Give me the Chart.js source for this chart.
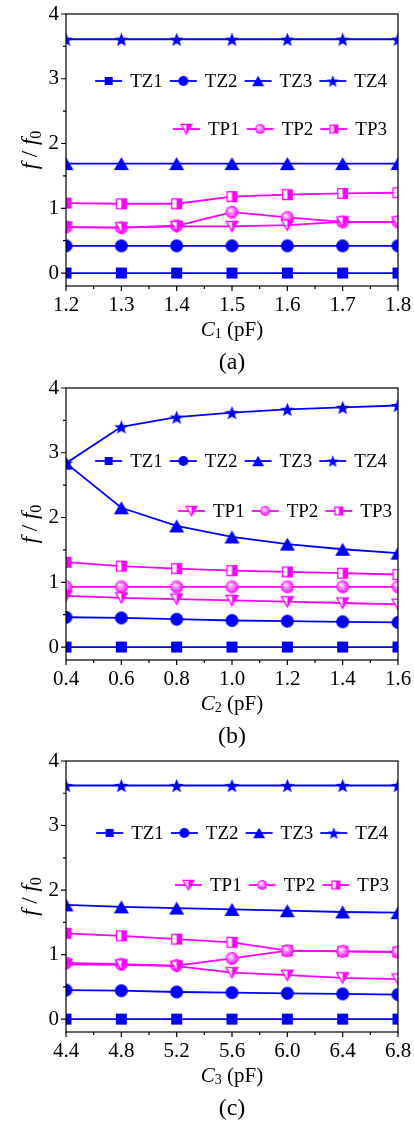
<!DOCTYPE html>
<html>
<head>
<meta charset="utf-8">
<script src="https://cdn.jsdelivr.net/npm/chart.js@4.4.1/dist/chart.umd.min.js"></script>
<style>
  body { margin: 0; background: #fff; }
  canvas { display: block; }
</style>
</head>
<body>
<canvas id="chartA" width="414" height="378"></canvas>
<canvas id="chartB" width="414" height="374"></canvas>
<canvas id="chartC" width="414" height="373"></canvas>
<script>
// (a) sweep of C1
const c1Values = [1.2, 1.3, 1.4, 1.5, 1.6, 1.7, 1.8];
const tz1A = [0, 0, 0, 0, 0, 0, 0];
const tz2A = [0.42, 0.42, 0.42, 0.42, 0.42, 0.42, 0.42];
const tz3A = [1.69, 1.69, 1.69, 1.69, 1.69, 1.69, 1.69];
const tz4A = [3.61, 3.61, 3.61, 3.61, 3.61, 3.61, 3.61];
const tp1A = [0.71, 0.70, 0.72, 0.72, 0.74, 0.79, 0.79];
const tp2A = [0.71, 0.70, 0.73, 0.94, 0.86, 0.79, 0.79];
const tp3A = [1.08, 1.07, 1.07, 1.18, 1.21, 1.23, 1.24];

// (b) sweep of C2
const c2Values = [0.4, 0.6, 0.8, 1.0, 1.2, 1.4, 1.6];
const tz1B = [0, 0, 0, 0, 0, 0, 0];
const tz2B = [0.46, 0.45, 0.43, 0.41, 0.40, 0.39, 0.38];
const tz3B = [2.84, 2.15, 1.87, 1.70, 1.59, 1.51, 1.45];
const tz4B = [2.84, 3.40, 3.55, 3.62, 3.67, 3.70, 3.73];
const tp1B = [0.79, 0.76, 0.74, 0.72, 0.70, 0.68, 0.66];
const tp2B = [0.93, 0.93, 0.93, 0.93, 0.93, 0.93, 0.93];
const tp3B = [1.31, 1.25, 1.21, 1.18, 1.16, 1.14, 1.12];

// (c) sweep of C3
const c3Values = [4.4, 4.8, 5.2, 5.6, 6.0, 6.4, 6.8];
const tz1C = [0, 0, 0, 0, 0, 0, 0];
const tz2C = [0.45, 0.44, 0.42, 0.41, 0.40, 0.39, 0.38];
const tz3C = [1.77, 1.74, 1.72, 1.70, 1.68, 1.66, 1.65];
const tz4C = [3.62, 3.62, 3.62, 3.62, 3.62, 3.62, 3.62];
const tp1C = [0.85, 0.84, 0.82, 0.72, 0.68, 0.64, 0.62];
const tp2C = [0.87, 0.85, 0.83, 0.94, 1.06, 1.05, 1.04];
const tp3C = [1.33, 1.29, 1.24, 1.19, 1.06, 1.05, 1.04];

// axis ticks
const ticksA = [1.2, 1.3, 1.4, 1.5, 1.6, 1.7, 1.8];
const ticksB = [0.4, 0.6, 0.8, 1.0, 1.2, 1.4, 1.6];
const ticksC = [4.4, 4.8, 5.2, 5.6, 6.0, 6.4, 6.8];
const yTicks = [0, 1, 2, 3, 4];

const blue = '#0000ff';
const magenta = '#ff00ff';
const serif = "'Liberation Serif', 'Times New Roman', serif";

// marker glyphs drawn once into small canvases
function makeMarker(kind, size, color) {
  const pad = 3;
  const dim = Math.ceil(size) + pad * 2;
  const cv = document.createElement('canvas');
  cv.width = dim;
  cv.height = dim;
  const g = cv.getContext('2d');
  const c = dim / 2, r = size / 2;
  g.fillStyle = color;
  g.strokeStyle = color;
  g.lineWidth = 1.3;
  if (kind === 'square') {
    g.fillRect(c - r, c - r, size, size);
  } else if (kind === 'circle') {
    g.beginPath();
    g.arc(c, c, r, 0, Math.PI * 2);
    g.fill();
  } else if (kind === 'triangle') {
    const h = size * 0.88;
    g.beginPath();
    g.moveTo(c, c - h / 2);
    g.lineTo(c + r, c + h / 2);
    g.lineTo(c - r, c + h / 2);
    g.closePath();
    g.fill();
  } else if (kind === 'star') {
    g.beginPath();
    for (let i = 0; i < 10; i++) {
      const rad = i % 2 ? r * 0.42 : r;
      const a = -Math.PI / 2 + i * Math.PI / 5;
      g.lineTo(c + rad * Math.cos(a), c + rad * Math.sin(a) + r * 0.1);
    }
    g.closePath();
    g.fill();
  } else if (kind === 'halfTriDown') {
    const h = size * 0.88;
    const path = () => {
      g.beginPath();
      g.moveTo(c - r + 0.6, c - h / 2 + 0.6);
      g.lineTo(c + r - 0.6, c - h / 2 + 0.6);
      g.lineTo(c, c + h / 2 - 0.6);
      g.closePath();
    };
    path();
    g.fillStyle = '#fff';
    g.fill();
    g.save();
    g.clip();
    g.fillStyle = color;
    g.fillRect(c, 0, dim, dim);
    g.restore();
    path();
    g.stroke();
  } else if (kind === 'sphere') {
    const grd = g.createRadialGradient(c - r * 0.3, c - r * 0.35, r * 0.05, c, c, r);
    grd.addColorStop(0, '#ffffff');
    grd.addColorStop(0.4, '#ff8cff');
    grd.addColorStop(1, color);
    g.fillStyle = grd;
    g.beginPath();
    g.arc(c, c, r, 0, Math.PI * 2);
    g.fill();
  } else if (kind === 'halfSquare') {
    g.fillStyle = '#fff';
    g.fillRect(c - r, c - r, size, size);
    g.fillStyle = color;
    g.fillRect(c, c - r, r, size);
    g.strokeRect(c - r + 0.6, c - r + 0.6, size - 1.2, size - 1.2);
  }
  return cv;
}

const seriesStyle = {
  TZ1: { color: blue, kind: 'square', size: 11, legendSize: 8 },
  TZ2: { color: blue, kind: 'circle', size: 13, legendSize: 10 },
  TZ3: { color: blue, kind: 'triangle', size: 15, legendSize: 12 },
  TZ4: { color: blue, kind: 'star', size: 15, legendSize: 13 },
  TP1: { color: magenta, kind: 'halfTriDown', size: 13, legendSize: 12 },
  TP2: { color: magenta, kind: 'sphere', size: 13, legendSize: 10 },
  TP3: { color: magenta, kind: 'halfSquare', size: 11, legendSize: 9 }
};
Object.values(seriesStyle).forEach(s => {
  s.marker = makeMarker(s.kind, s.size, s.color);
  s.legendMarker = makeMarker(s.kind, s.legendSize, s.color);
});

function series(label, xs, ys) {
  const st = seriesStyle[label];
  return {
    label: label,
    data: xs.map((x, i) => ({ x: x, y: ys[i] })),
    borderColor: st.color,
    backgroundColor: st.color,
    borderWidth: 1.8,
    pointStyle: st.marker,
    pointRadius: 6,
    pointHoverRadius: 6,
    tension: 0,
    clip: 0
  };
}

// draws a run of text pieces (italic letters, subscripts) centred on cx
function drawRich(ctx, parts, cx, baseY) {
  let total = 0;
  parts.forEach(p => {
    ctx.font = p.font;
    p.w = ctx.measureText(p.text).width;
    total += p.w;
  });
  let x = cx - total / 2;
  ctx.textAlign = 'left';
  ctx.textBaseline = 'alphabetic';
  parts.forEach(p => {
    ctx.font = p.font;
    ctx.fillText(p.text, x, baseY + (p.dy || 0));
    x += p.w;
  });
}

// frame, outward ticks, axis titles, caption and the in-plot legend
const decorPlugin = {
  id: 'decor',
  afterDraw(chart, args, opts) {
    const { ctx, chartArea: a } = chart;
    const xs = chart.scales.x, ys = chart.scales.y;
    ctx.save();
    ctx.strokeStyle = '#000';
    ctx.lineWidth = 1.2;
    ctx.strokeRect(a.left, a.top, a.right - a.left, a.bottom - a.top);

    ctx.beginPath();
    opts.xTicks.forEach((v, i) => {
      const px = xs.getPixelForValue(v);
      ctx.moveTo(px, a.bottom);
      ctx.lineTo(px, a.bottom + 5);
      if (i < opts.xTicks.length - 1) {
        const mx = xs.getPixelForValue((v + opts.xTicks[i + 1]) / 2);
        ctx.moveTo(mx, a.bottom);
        ctx.lineTo(mx, a.bottom + 3);
      }
    });
    yTicks.forEach((v, i) => {
      const py = ys.getPixelForValue(v);
      ctx.moveTo(a.left, py);
      ctx.lineTo(a.left - 5, py);
      if (i < yTicks.length - 1) {
        const my = ys.getPixelForValue(v + 0.5);
        ctx.moveTo(a.left, my);
        ctx.lineTo(a.left - 3, my);
      }
    });
    ctx.stroke();

    ctx.fillStyle = '#000';
    const cx = (a.left + a.right) / 2;
    drawRich(ctx, [
      { text: 'C', font: 'italic 21px ' + serif },
      { text: opts.sub, font: '14px ' + serif, dy: 2 },
      { text: ' (pF)', font: '21px ' + serif }
    ], cx, a.bottom + 50);

    ctx.font = '24px ' + serif;
    ctx.textAlign = 'center';
    ctx.textBaseline = 'middle';
    ctx.fillText(opts.caption, cx, a.bottom + 77);

    ctx.save();
    ctx.translate(30, (a.top + a.bottom) / 2);
    ctx.rotate(-Math.PI / 2);
    drawRich(ctx, [
      { text: 'f', font: 'italic 23px ' + serif },
      { text: ' / ', font: '23px ' + serif },
      { text: 'f', font: 'italic 23px ' + serif },
      { text: '0', font: '16px ' + serif, dy: 4 }
    ], 0, 7);
    ctx.restore();

    // legend rows, right aligned inside the plot
    ctx.font = '19px ' + serif;
    opts.legendRows.forEach(row => {
      const widths = row.items.map(name => 35 + ctx.measureText(name).width);
      const total = widths.reduce((s, w) => s + w, 0) + 7 * (row.items.length - 1);
      let x = a.right - row.right - total;
      const y = a.top + row.y;
      row.items.forEach((name, i) => {
        const st = seriesStyle[name];
        ctx.strokeStyle = st.color;
        ctx.lineWidth = 1.8;
        ctx.beginPath();
        ctx.moveTo(x, y);
        ctx.lineTo(x + 27, y);
        ctx.stroke();
        const m = st.legendMarker;
        ctx.drawImage(m, x + 13.5 - m.width / 2, y - m.height / 2);
        ctx.fillStyle = '#000';
        ctx.textAlign = 'left';
        ctx.textBaseline = 'middle';
        ctx.fillText(name, x + 35, y + 1);
        x += widths[i] + 7;
      });
    });
    ctx.restore();
  }
};

function buildChart(id, xs, xTicks, data, layout) {
  const canvas = document.getElementById(id);
  const names = ['TZ1', 'TZ2', 'TZ3', 'TZ4', 'TP1', 'TP2', 'TP3'];
  new Chart(canvas.getContext('2d'), {
    type: 'line',
    data: { datasets: names.map((n, i) => series(n, xs, data[i])) },
    options: {
      responsive: false,
      animation: false,
      events: [],
      layout: { padding: { top: layout.top, right: 16, left: 0, bottom: 0 } },
      scales: {
        x: {
          type: 'linear',
          min: xTicks[0],
          max: xTicks[xTicks.length - 1],
          afterBuildTicks: s => { s.ticks = xTicks.map(v => ({ value: v })); },
          afterFit: s => {
            s.height = canvas.height - layout.bottom;
            s.paddingLeft = 0;
            s.paddingRight = 0;
          },
          grid: { display: false, drawTicks: false },
          border: { display: false },
          ticks: {
            autoSkip: false,
            maxRotation: 0,
            padding: 9,
            color: '#000',
            font: { family: serif, size: 21, lineHeight: 1 },
            callback: v => Number(v).toFixed(1)
          }
        },
        y: {
          min: -0.2,
          max: 4,
          afterBuildTicks: s => { s.ticks = yTicks.map(v => ({ value: v })); },
          afterFit: s => {
            s.width = 66;
            s.paddingTop = 0;
            s.paddingBottom = 0;
          },
          grid: { display: false, drawTicks: false },
          border: { display: false },
          ticks: {
            padding: 7,
            color: '#000',
            font: { family: serif, size: 21, lineHeight: 1 },
            callback: v => String(v)
          }
        }
      },
      plugins: {
        legend: { display: false },
        tooltip: { enabled: false },
        decor: {
          xTicks: xTicks,
          sub: layout.sub,
          caption: layout.caption,
          legendRows: layout.legendRows
        }
      }
    },
    plugins: [decorPlugin]
  });
}

buildChart('chartA', c1Values, ticksA, [tz1A, tz2A, tz3A, tz4A, tp1A, tp2A, tp3A], {
  top: 14, bottom: 286, sub: '1', caption: '(a)',
  legendRows: [
    { y: 67, right: 11, items: ['TZ1', 'TZ2', 'TZ3', 'TZ4'] },
    { y: 115, right: 11, items: ['TP1', 'TP2', 'TP3'] }
  ]
});

buildChart('chartB', c2Values, ticksB, [tz1B, tz2B, tz3B, tz4B, tp1B, tp2B, tp3B], {
  top: 10, bottom: 282, sub: '2', caption: '(b)',
  legendRows: [
    { y: 73, right: 11, items: ['TZ1', 'TZ2', 'TZ3', 'TZ4'] },
    { y: 123, right: 6, items: ['TP1', 'TP2', 'TP3'] }
  ]
});

buildChart('chartC', c3Values, ticksC, [tz1C, tz2C, tz3C, tz4C, tp1C, tp2C, tp3C], {
  top: 9, bottom: 280, sub: '3', caption: '(c)',
  legendRows: [
    { y: 72, right: 10, items: ['TZ1', 'TZ2', 'TZ3', 'TZ4'] },
    { y: 124, right: 9, items: ['TP1', 'TP2', 'TP3'] }
  ]
});
</script>
</body>
</html>
